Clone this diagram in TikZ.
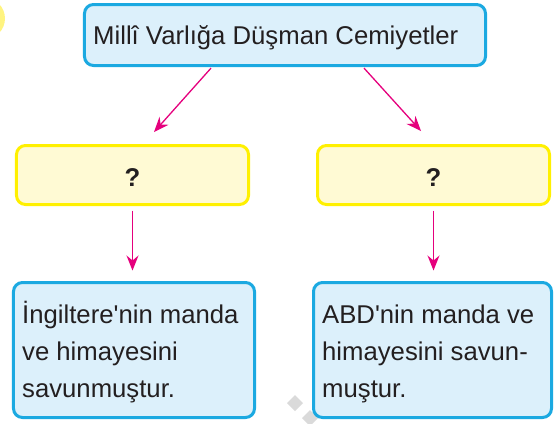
\documentclass[tikz,border=0pt]{standalone}
\usepackage{fontspec}
\setmainfont{Liberation Sans}[Ligatures=TeXOff]
\usetikzlibrary{arrows.meta,calc}
\definecolor{bbord}{HTML}{1BA9E1}
\definecolor{bfill}{HTML}{DCF0FB}
\definecolor{ybord}{HTML}{FFF000}
\definecolor{yfill}{HTML}{FFFAD4}
\definecolor{mag}{HTML}{E5007D}
\definecolor{dotc}{HTML}{FFF480}
\definecolor{wm}{HTML}{DADADA}
\definecolor{ink}{HTML}{231F20}
\newcommand\txtfont{\fontsize{25.7bp}{37bp}\selectfont}
\begin{document}
\begin{tikzpicture}[x=1bp,y=-1bp,
  bluebox/.style={draw=bbord,fill=bfill,line width=3bp,rounded corners=9bp,inner sep=0pt},
  yelbox/.style={draw=ybord,fill=yfill,line width=3bp,rounded corners=9bp,inner sep=0pt},
  txt/.style={font=\txtfont,text=ink,inner sep=0pt},
  arr/.style={draw=mag,line width=1.3bp,-{Stealth[length=15bp,width=12bp,inset=5bp]}},
  wmark/.style={fill=wm}]
\useasboundingbox (0,0) rectangle (557,423);
% partial yellow dot at the left edge
\fill[dotc] (-15.7,18.5) circle (20.7bp);
% watermark fragments
\fill[wmark] (295,395) -- (303,403) -- (295,411) -- (287,403) -- cycle;
\fill[wmark] (310,410) -- (318,418) -- (310,426) -- (302,418) -- cycle;
% top box
\node[bluebox,minimum width=401bp,minimum height=61bp] (top) at (285,35) {};
\node[txt,anchor=base west] (toptxt) at (93,44) {Millî Varlığa Düşman Cemiyetler};
% yellow boxes
\node[yelbox,minimum width=232bp,minimum height=59bp] (yl) at (132.5,175) {};
\node[yelbox,minimum width=232bp,minimum height=59bp] (yr) at (433.5,175) {};
\node[txt,font=\txtfont\bfseries] (ql) at ($(yl)+(0,2.5)$) {?};
\node[txt,font=\txtfont\bfseries] (qr) at ($(yr)+(0,2.5)$) {?};
% bottom boxes
\node[bluebox,minimum width=241bp,minimum height=135bp] (bl) at (134,350) {};
\node[bluebox,minimum width=238bp,minimum height=135bp] (br) at (432.5,350) {};
\node[txt,anchor=base west] (bl1) at (22,323) {İngiltere'nin manda};
\node[txt,anchor=base west] (bl2) at (22,360) {ve himayesini};
\node[txt,anchor=base west] (bl3) at (22,397) {savunmuştur.};
\node[txt,anchor=base west] (br1) at (322,323) {ABD'nin manda ve};
\node[txt,anchor=base west] (br2) at (322,360) {himayesini savun-};
\node[txt,anchor=base west] (br3) at (322,397) {muştur.};
% connectors
\coordinate (e1) at (154,132);
\coordinate (e2) at (421,131);
\draw[arr,shorten <=1.5bp] ([xshift=-73bp]top.south) -- (e1);
\draw[arr,shorten <=1.5bp] ([xshift=78bp]top.south) -- (e2);
\draw[arr,shorten <=4.5bp,shorten >=10.5bp] (yl.south) -- (yl.south |- bl.north);
\draw[arr,shorten <=4.5bp,shorten >=10.5bp] (yr.south) -- (yr.south |- br.north);
\end{tikzpicture}
\end{document}
